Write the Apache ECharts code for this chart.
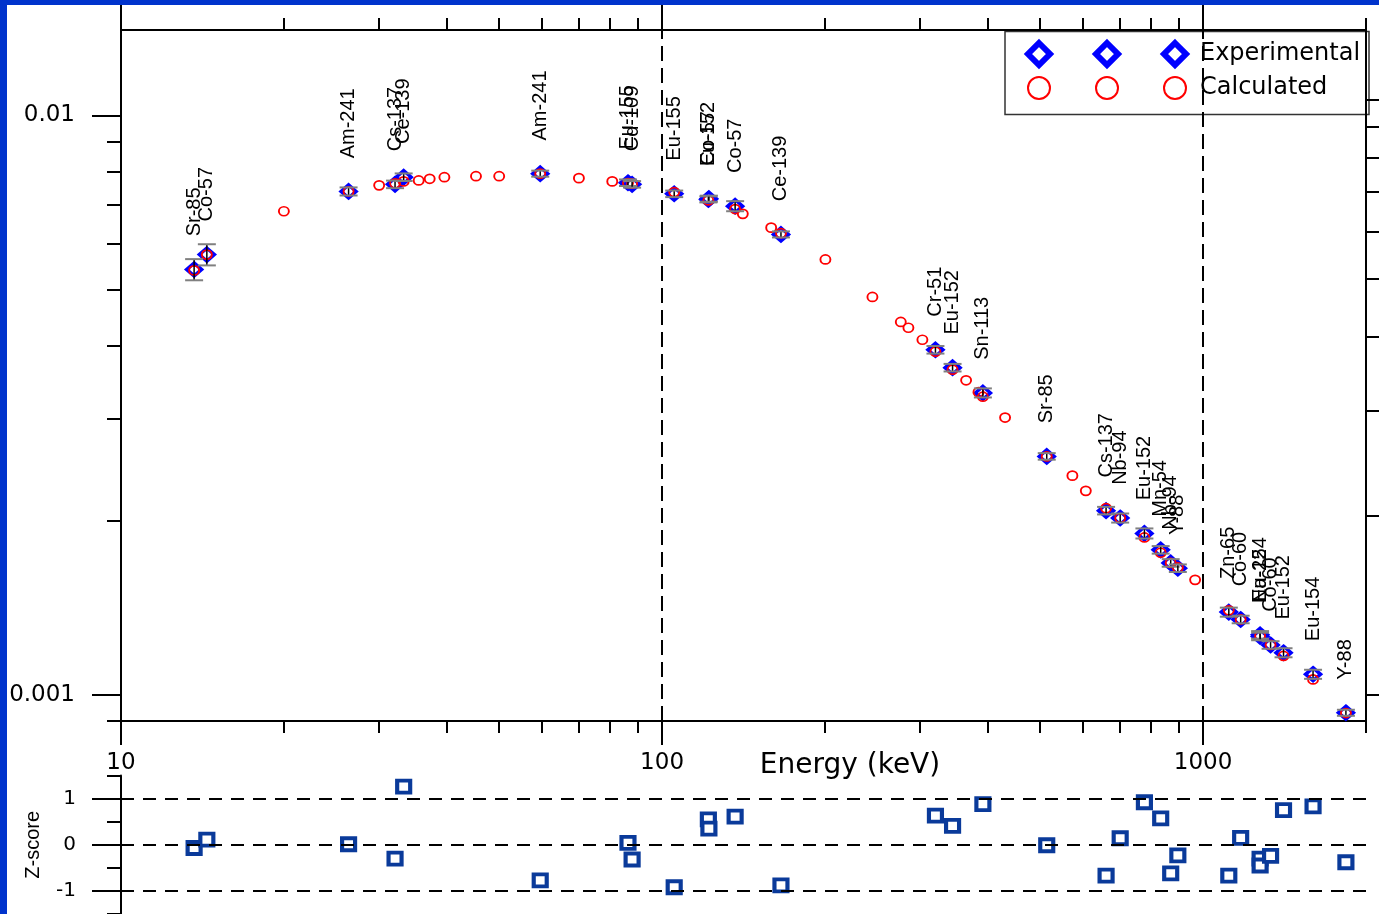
<!DOCTYPE html>
<html>
<head>
<meta charset="utf-8">
<script src="https://cdn.jsdelivr.net/npm/echarts@6/dist/echarts.min.js"></script>
<style>
html,body{margin:0;padding:0;background:#fff;}
#chart{width:1379px;height:914px;}
</style>
</head>
<body>
<div id="chart"></div>
<script>
// ---------- data ----------
const expLabels = ['Sr-85','Co-57','Am-241','Cs-137','Ce-139','Am-241','Eu-155','Cd-109','Eu-155','Eu-152','Co-57','Co-57','Ce-139','Cr-51','Eu-152','Sn-113','Sr-85','Cs-137','Nb-94','Eu-152','Mn-54','Nb-94','Y-88','Zn-65','Co-60','Eu-154','Na-22','Co-60','Eu-152','Eu-154','Y-88'];
const expEnergy = [13.65, 14.41, 26.34, 32.1, 33.3, 59.54, 86.5, 88.03, 105.3, 121.78, 122.06, 136.47, 165.86, 320.08, 344.28, 391.7, 514.0, 661.66, 702.6, 778.9, 834.8, 871.1, 898.0, 1115.5, 1173.2, 1274.4, 1274.5, 1332.5, 1408.0, 1596.5, 1836.1];
const expValue = [0.00542, 0.00575, 0.00739, 0.0076, 0.00782, 0.00793, 0.00765, 0.0076, 0.00732, 0.00716, 0.00718, 0.00697, 0.00623, 0.00394, 0.00367, 0.00332, 0.00258, 0.00208, 0.00202, 0.0019, 0.00178, 0.00169, 0.001655, 0.00139, 0.00135, 0.00127, 0.001262, 0.00122, 0.001183, 0.001086, 0.000932];
const expUnc = [0.042, 0.042, 0.016, 0.015, 0.015, 0.012, 0.013, 0.013, 0.013, 0.012, 0.012, 0.02, 0.012, 0.015, 0.015, 0.018, 0.013, 0.015, 0.018, 0.02, 0.015, 0.015, 0.015, 0.018, 0.015, 0.015, 0.015, 0.015, 0.018, 0.018, 0.012];
const zScore = [-0.07, 0.11, 0.01, -0.30, 1.26, -0.77, 0.04, -0.32, -0.92, 0.55, 0.35, 0.61, -0.88, 0.63, 0.41, 0.88, -0.01, -0.67, 0.14, 0.92, 0.57, -0.62, -0.23, -0.67, 0.15, -0.30, -0.45, -0.24, 0.75, 0.83, -0.38];

const calcEnergy = [13.65, 14.41, 20.0, 26.34, 30.0, 32.1, 33.3, 35.5, 37.2, 39.6, 45.3, 50.0, 59.54, 70.2, 80.9, 86.5, 88.03, 105.3, 121.78, 136.47, 141.0, 159.1, 165.86, 200.4, 244.8, 276.2, 285.3, 302.8, 320.08, 344.28, 364.7, 384.4, 391.7, 430.5, 514.0, 573.3, 607.0, 661.66, 702.6, 778.9, 834.8, 871.1, 898.0, 966.5, 1115.5, 1173.2, 1274.5, 1332.5, 1408.0, 1596.5, 1836.1];
const calcValue = [0.0054, 0.00575, 0.00683, 0.00739, 0.00757, 0.00763, 0.00769, 0.00772, 0.00777, 0.00782, 0.00785, 0.00785, 0.00793, 0.00779, 0.00769, 0.00764, 0.00762, 0.00737, 0.00713, 0.00689, 0.00676, 0.0064, 0.00626, 0.00564, 0.00486, 0.0044, 0.0043, 0.0041, 0.00391, 0.00364, 0.00349, 0.00333, 0.00327, 0.00301, 0.00258, 0.00239, 0.00225, 0.0021, 0.00202, 0.00187, 0.00176, 0.00169, 0.00166, 0.00158, 0.0014, 0.00135, 0.001265, 0.00122, 0.001168, 0.001064, 0.000931];

const xMajorTicks = [10, 100, 1000];
const xMinorTicks = [20, 30, 40, 50, 60, 70, 80, 90, 200, 300, 400, 500, 600, 700, 800, 900, 2000];
const yMajorTicks = [0.001, 0.01];
const yMinorTicks = [0.002, 0.003, 0.004, 0.005, 0.006, 0.007, 0.008, 0.009];
const yRightTicks = [0.001, 0.002, 0.003, 0.004, 0.005, 0.006, 0.007, 0.008, 0.009, 0.01];
const zMajorTicks = [-1, 0, 1];
const zMinorTicks = [-1.5, -0.5, 0.5, 1.5];
const xRefLines = [100, 1000];
const zRefLines = [1, 0, -1];

// ---------- chart ----------
const chart = echarts.init(document.getElementById('chart'), null, {renderer: 'canvas'});
const black = '#000';
const lblFont = 'DejaVu Sans';
const xMin = 10, xMax = 2000;

function xAxisBase(extra) {
  return Object.assign({
    type: 'log', logBase: 10, min: xMin, max: xMax, gridIndex: 0,
    splitLine: {show: false}, minorTick: {show: false}, minorSplitLine: {show: false},
    axisLine: {show: true, onZero: false, lineStyle: {color: black, width: 2}},
    axisLabel: {show: false},
    axisPointer: {show: false}
  }, extra);
}

const option = {
  animation: false,
  backgroundColor: '#fff',
  grid: [
    {left: 121, top: 30, width: 1245, height: 691},
    {left: 121, top: 775.5, width: 1245, height: 141}
  ],
  xAxis: [
    xAxisBase({position: 'bottom',
      axisTick: {show: true, inside: false, length: 12, customValues: xMinorTicks, lineStyle: {color: black, width: 2}},
      axisLabel: {show: true, customValues: xMajorTicks, margin: 31, fontFamily: lblFont, fontSize: 23, color: black,
        formatter: v => String(Math.round(v))}}),
    xAxisBase({position: 'bottom', axisLine: {show: false},
      axisTick: {show: true, inside: false, length: 24, customValues: xMajorTicks, lineStyle: {color: black, width: 2}}}),
    xAxisBase({position: 'top',
      axisTick: {show: true, inside: false, length: 12, customValues: xMinorTicks, lineStyle: {color: black, width: 2}}}),
    xAxisBase({position: 'top', axisLine: {show: false},
      axisTick: {show: true, inside: false, length: 25, customValues: xMajorTicks, lineStyle: {color: black, width: 2}}}),
    xAxisBase({gridIndex: 1, position: 'bottom', show: false})
  ],
  yAxis: [
    {type: 'log', logBase: 10, min: 0.000902, max: 0.01403, gridIndex: 0, position: 'left',
      splitLine: {show: false},
      axisLine: {show: true, onZero: false, lineStyle: {color: black, width: 2}},
      axisTick: {show: true, inside: false, length: 14, customValues: yMinorTicks, lineStyle: {color: black, width: 2}},
      axisLabel: {show: true, customValues: yMajorTicks, margin: 46, fontFamily: lblFont, fontSize: 23, color: black,
        formatter: v => String(Number(v.toPrecision(3)))}},
    {type: 'log', logBase: 10, min: 0.000902, max: 0.01403, gridIndex: 0, position: 'left',
      splitLine: {show: false}, axisLine: {show: false}, axisLabel: {show: false},
      axisTick: {show: true, inside: false, length: 29, customValues: yMajorTicks, lineStyle: {color: black, width: 2}}},
    {type: 'log', logBase: 10, min: 0.000904, max: 0.01309, gridIndex: 0, position: 'right',
      splitLine: {show: false}, axisLabel: {show: false},
      axisLine: {show: true, onZero: false, lineStyle: {color: black, width: 2}},
      axisTick: {show: true, inside: false, length: 14, customValues: yRightTicks, lineStyle: {color: black, width: 2}}},
    {type: 'value', min: -1.5, max: 1.5, gridIndex: 1, position: 'left',
      splitLine: {show: false},
      axisLine: {show: true, onZero: false, lineStyle: {color: black, width: 2}},
      axisTick: {show: true, inside: false, length: 14, customValues: zMinorTicks, lineStyle: {color: black, width: 2}},
      axisLabel: {show: true, customValues: zMajorTicks, margin: 45, fontFamily: lblFont, fontSize: 20, color: black},
      name: 'Z-score', nameLocation: 'middle', nameRotate: 90, nameGap: 78,
      nameTextStyle: {fontFamily: 'Liberation Sans', fontSize: 20, color: black}},
    {type: 'value', min: -1.5, max: 1.5, gridIndex: 1, position: 'left',
      splitLine: {show: false}, axisLine: {show: false}, axisLabel: {show: false},
      axisTick: {show: true, inside: false, length: 29, customValues: zMajorTicks, lineStyle: {color: black, width: 2}}}
  ],
  legend: [0, 1, 2].map(i => ({
    orient: 'vertical',
    left: [1020, 1088, 1156][i],
    top: 35,
    itemWidth: 22, itemHeight: 22, itemGap: 8,
    selectedMode: false,
    formatter: i === 2 ? (n => n) : (() => ''),
    textStyle: {fontFamily: lblFont, fontSize: 24, color: black, padding: [0, 0, 0, 9]},
    data: [
      {name: 'Experimental', icon: 'diamond', itemStyle: {color: '#fff', borderColor: '#0000ff', borderWidth: 6}},
      {name: 'Calculated', icon: 'circle', itemStyle: {color: '#fff', borderColor: '#ff0000', borderWidth: 2}}
    ]
  })),
  graphic: [
    {type: 'rect', z: -1, shape: {x: 1005, y: 31.5, width: 364, height: 83},
      style: {fill: '#fff', stroke: '#333', lineWidth: 1.5}},
    {type: 'text', x: 850, y: 766,
      style: {text: 'Energy (keV)', fontFamily: 'DejaVu Sans', fontSize: 28, fill: black, align: 'center', verticalAlign: 'middle', textAlign: 'center', textVerticalAlign: 'middle'}},
    {type: 'line', shape: {x1: 107, y1: 721, x2: 121, y2: 721}, style: {stroke: black, lineWidth: 2}},
    {type: 'rect', z: 100, shape: {x: 0, y: 0, width: 7, height: 914}, style: {fill: '#0033cc'}},
    {type: 'rect', z: 100, shape: {x: 0, y: 0, width: 1379, height: 5}, style: {fill: '#0033cc'}}
  ],
  series: [
    {
      name: 'Experimental', type: 'scatter', xAxisIndex: 0, yAxisIndex: 0, z: 3,
      symbol: 'diamond', symbolSize: [15, 13],
      itemStyle: {color: '#fff', borderColor: '#0000ff', borderWidth: 3.5, opacity: 1},
      data: expEnergy.map((e, i) => [e, expValue[i]]),
      label: {show: true, position: 'top', distance: 25, rotate: 90, align: 'left', verticalAlign: 'middle',
        fontFamily: 'Liberation Sans', fontSize: 20, color: black,
        formatter: p => expLabels[p.dataIndex]},
      emphasis: {disabled: true}
    },
    {
      name: 'Calculated', type: 'scatter', xAxisIndex: 0, yAxisIndex: 0, z: 4,
      symbol: 'circle', symbolSize: [10, 9],
      itemStyle: {color: 'rgba(255,255,255,0)', borderColor: '#ff0000', borderWidth: 1.8, opacity: 1},
      data: calcEnergy.map((e, i) => [e, calcValue[i]]),
      emphasis: {disabled: true},
      markLine: {
        silent: true, symbol: ['none', 'none'], label: {show: false},
        lineStyle: {color: black, type: [15, 7], width: 2},
        data: xRefLines.map(v => ({xAxis: v}))
      }
    },
    {
      name: 'errorbars', type: 'custom', xAxisIndex: 0, yAxisIndex: 0, z: 5,
      data: expEnergy.map((e, i) => [e, expValue[i], expUnc[i]]),
      encode: {x: 0, y: 1},
      renderItem: function (params, api) {
        const x = api.value(0), v = api.value(1), u = api.value(2);
        const t = api.coord([x, v * (1 + u)]);
        const b = api.coord([x, v * (1 - u)]);
        const hw = 9;
        return {
          type: 'group',
          children: [
            {type: 'line', shape: {x1: t[0], y1: t[1], x2: b[0], y2: b[1]}, style: {stroke: black, lineWidth: 1.5}},
            {type: 'line', shape: {x1: t[0] - hw, y1: t[1], x2: t[0] + hw, y2: t[1]}, style: {stroke: '#808080', lineWidth: 2}},
            {type: 'line', shape: {x1: b[0] - hw, y1: b[1], x2: b[0] + hw, y2: b[1]}, style: {stroke: '#808080', lineWidth: 2}}
          ]
        };
      }
    },
    {
      name: 'Z-score', type: 'scatter', xAxisIndex: 4, yAxisIndex: 3, z: 4,
      symbol: 'rect', symbolSize: [13, 12],
      itemStyle: {color: '#fff', borderColor: '#0a3a9a', borderWidth: 4, opacity: 1},
      data: expEnergy.map((e, i) => [e, zScore[i]]),
      emphasis: {disabled: true},
      markLine: {
        silent: true, symbol: ['none', 'none'], label: {show: false},
        lineStyle: {color: black, type: [13, 9], width: 2},
        data: zRefLines.map(v => ({yAxis: v}))
      }
    }
  ]
};
chart.setOption(option);
</script>
</body>
</html>
